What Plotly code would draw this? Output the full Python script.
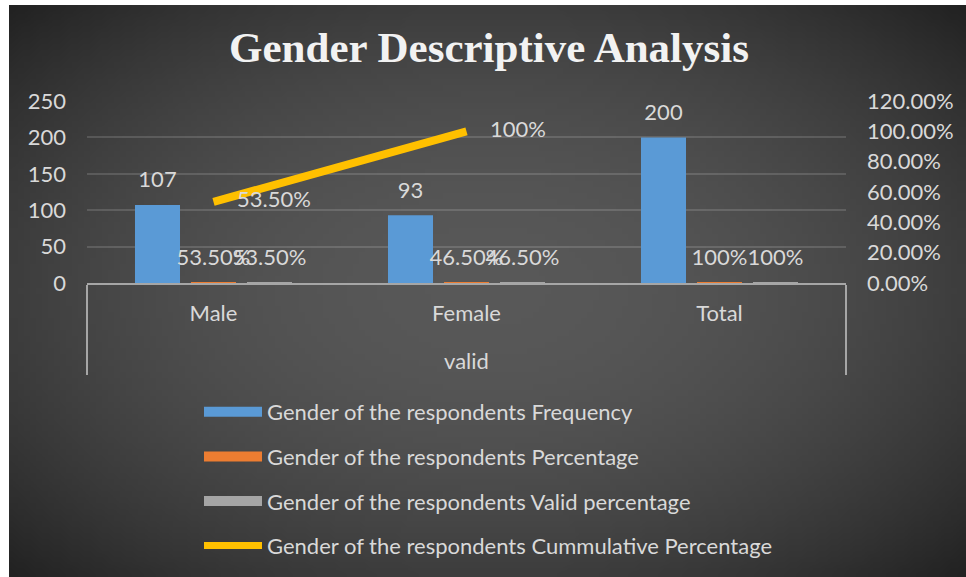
import base64
import struct
import zlib
import plotly.graph_objects as go

# ---------------- data ----------------
groups = ["valid", "valid", "valid"]
categories = ["Male", "Female", "Total"]
frequency = [107, 93, 200]
percentage = [0.535, 0.465, 1.0]
valid_percentage = [0.535, 0.465, 1.0]
cumulative_categories = ["Male", "Female"]
cumulative_groups = ["valid", "valid"]
cumulative = [0.535, 1.0]
frequency_labels = ["107", "93", "200"]
percentage_labels = ["53.50%", "46.50%", "100%"]
valid_labels = ["53.50%", "46.50%", "100%"]
cumulative_labels = ["53.50%", "100%"]
series_names = [
    "Gender of the respondents Frequency",
    "Gender of the respondents Percentage",
    "Gender of the respondents Valid percentage",
    "Gender of the respondents Cummulative Percentage",
]
left_ticks = [0, 50, 100, 150, 200, 250]
right_ticks = [0, 0.2, 0.4, 0.6, 0.8, 1.0, 1.2]
right_tick_labels = ["0.00%", "20.00%", "40.00%", "60.00%", "80.00%", "100.00%", "120.00%"]

# ---------------- style ----------------
W, H = 966, 577
ML, MR, MT, MB = 87, 120, 101, 294
PW, PH = W - ML - MR, H - MT - MB
TXT = "#d9d9d9"
FONT = "Lato"
FS = 22
BLUE, ORANGE, GRAY, GOLD = "#5a9ad6", "#ed7d31", "#a5a5a5", "#ffc000"


def px_x(px):
    return (px - ML) / PW


def px_y(py):
    return (H - MB - py) / PH


def gradient_png(w, h, c_in=88, c_out=33):
    rows = []
    for j in range(h):
        row = bytearray([0])
        dy = (j + 0.5) / h * 2 - 1
        for i in range(w):
            dx = (i + 0.5) / w * 2 - 1
            t = min(1.0, (dx * dx + dy * dy) / 2.0)
            row.append(int(round(c_in + (c_out - c_in) * t)))
        rows.append(bytes(row))
    raw = b"".join(rows)

    def chunk(tag, data):
        c = struct.pack(">I", len(data)) + tag + data
        return c + struct.pack(">I", zlib.crc32(tag + data) & 0xFFFFFFFF)

    png = (b"\x89PNG\r\n\x1a\n"
           + chunk(b"IHDR", struct.pack(">IIBBBBB", w, h, 8, 0, 0, 0, 0))
           + chunk(b"IDAT", zlib.compress(raw, 9))
           + chunk(b"IEND", b""))
    return "data:image/png;base64," + base64.b64encode(png).decode()


# outer level label pushed one line lower, like the original two-level axis
x_multi = [["<br>" + g for g in groups], categories]
x_line = [["<br>" + g for g in cumulative_groups], cumulative_categories]
label_font = dict(family=FONT, size=FS, color=TXT)

fig = go.Figure()

bar_specs = [
    (frequency, frequency_labels, BLUE, series_names[0], "g1"),
    (percentage, percentage_labels, ORANGE, series_names[1], "g2"),
    (valid_percentage, valid_labels, GRAY, series_names[2], "g3"),
]
for vals, labels, color, name, grp in bar_specs:
    fig.add_trace(go.Bar(
        x=x_multi, y=vals, name=name, legendgroup=grp, showlegend=False,
        marker=dict(color=color, line=dict(width=0)), offsetgroup=grp,
    ))
# data labels, aligned with the grouped bars
for vals, labels, color, name, grp in bar_specs:
    fig.add_trace(go.Scatter(
        x=x_multi, y=vals, name=name, legendgroup=grp, showlegend=False,
        mode="markers+text", marker=dict(size=18, opacity=0, color=color),
        text=labels, textposition="top center", textfont=label_font,
        offsetgroup=grp, cliponaxis=False, hoverinfo="skip",
    ))

fig.add_trace(go.Scatter(
    x=x_line, y=cumulative, yaxis="y2",
    name=series_names[3], legendgroup="g4", showlegend=False,
    mode="lines+markers+text", line=dict(color=GOLD, width=8),
    marker=dict(size=36, opacity=0, color=GOLD),
    text=cumulative_labels, textposition="middle right", textfont=label_font,
    cliponaxis=False, offsetgroup="g2",
))

# legend swatches (wide bars like the original legend)
for vals, labels, color, name, grp in bar_specs:
    fig.add_trace(go.Scatter(
        x=[[x_multi[0][0]], [categories[0]]], y=[None], name=name,
        legendgroup=grp, offsetgroup=grp,
        mode="lines", line=dict(color=color, width=10), hoverinfo="skip",
    ))
fig.add_trace(go.Scatter(
    x=[[x_multi[0][0]], [categories[0]]], y=[None], yaxis="y2",
    name=series_names[3], legendgroup="g4", offsetgroup="g2", mode="lines",
    line=dict(color=GOLD, width=7), hoverinfo="skip",
))

fig.update_layout(
    width=W, height=H,
    margin=dict(l=ML, r=MR, t=MT, b=MB, autoexpand=False),
    paper_bgcolor="white", plot_bgcolor="rgba(0,0,0,0)",
    font=dict(family=FONT, size=FS, color=TXT),
    title=dict(
        text="<b>Gender Descriptive Analysis</b>",
        font=dict(family="Liberation Serif", size=43, color="#f2f2f2"),
        x=489 / W, xref="container", xanchor="center",
        y=1 - 47 / H, yref="container", yanchor="middle",
    ),
    barmode="group", bargap=0.336, bargroupgap=0.196,
    scattermode="group", scattergap=0.336,
    xaxis=dict(
        type="multicategory", showline=True, linecolor="#a6a6a6", linewidth=2,
        showgrid=False, ticks="", tickfont=label_font, ticklabelstandoff=10,
        showdividers=True, dividercolor="#a6a6a6", dividerwidth=2,
    ),
    yaxis=dict(
        range=[0, 250], tickvals=left_ticks, showline=False, zeroline=False,
        showgrid=True, gridcolor="rgba(255,255,255,0.14)", gridwidth=2,
        tickfont=label_font, ticks="", ticklabelstandoff=20,
    ),
    yaxis2=dict(
        range=[0, 1.2], tickvals=right_ticks, ticktext=right_tick_labels,
        overlaying="y", side="right", showgrid=False, zeroline=False,
        showline=False, tickfont=label_font, ticks="", ticklabelstandoff=20,
    ),
    legend=dict(
        x=px_x(199), y=px_y(391), xanchor="left", yanchor="top",
        bgcolor="rgba(0,0,0,0)", font=dict(family=FONT, size=FS, color=TXT),
        itemwidth=58, tracegroupgap=13, traceorder="grouped",
    ),
    images=[dict(
        source=gradient_png(160, 96), xref="paper", yref="paper",
        x=px_x(9), y=px_y(5), sizex=(W - 9) / PW, sizey=(H - 5) / PH,
        xanchor="left", yanchor="top", sizing="stretch", layer="below",
    )],
    showlegend=True,
)

fig.write_html(
    "out.html",
    config={"displayModeBar": False},
    post_script="document.body.style.margin='0';document.body.style.overflow='hidden';",
)
